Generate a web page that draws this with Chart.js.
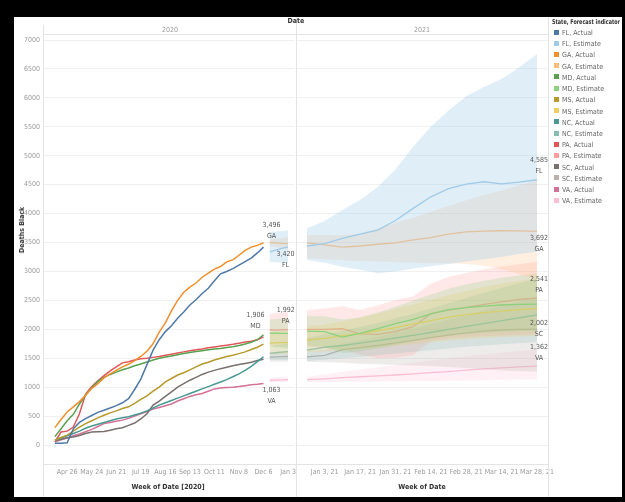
<!DOCTYPE html>
<html>
<head>
<meta charset="utf-8">
<script src="https://cdn.jsdelivr.net/npm/chart.js@4.4.1/dist/chart.umd.min.js"></script>
<style>
  html, body { margin: 0; padding: 0; background: #000; }
  body { width: 625px; height: 502px; position: relative; overflow: hidden;
         font-family: 'Liberation Sans Narrow', 'DejaVu Sans Condensed', 'Roboto Condensed', sans-serif; }
  #sheet { position: absolute; left: 14px; top: 17px; width: 608px; height: 480px; background: #fff; }
  canvas { position: absolute; }
  #chart2020 { left: 14px; top: 17px; }
  #chart2021 { left: 296px; top: 17px; }
  .rule { position: absolute; background: #e4e4e4; }
  .txt { position: absolute; white-space: nowrap; transform: translate(-50%, -50%); font-size: 7px; color: #999; }
  .bold { font-weight: bold; color: #333; }
  #legend { position: absolute; left: 552px; top: 17px; font-size: 7px; color: #666; white-space: nowrap; }
  #legend .title { font-weight: bold; color: #333; height: 11px; line-height: 11px; font-size: 6.6px;
                   transform: scaleX(0.82); transform-origin: left center; }
  #legend .item { height: 11.23px; line-height: 11.23px; }
  #legend .sw { display: inline-block; width: 5px; height: 5px; margin: 0 3px 0 2px; vertical-align: middle; position: relative; top: -1px; }
</style>
</head>
<body>
<div id="sheet"></div>
<canvas id="chart2020" width="286" height="480"></canvas>
<canvas id="chart2021" width="272" height="480"></canvas>

<div class="rule" style="left:43px; top:25px; width:1px; height:472px;"></div>
<div class="rule" style="left:296px; top:17px; width:1px; height:480px;"></div>
<div class="rule" style="left:548px; top:17px; width:1px; height:480px;"></div>
<div class="rule" style="left:43px; top:34px; width:505px; height:1px;"></div>
<div class="rule" style="left:43px; top:464px; width:505px; height:1px;"></div>

<div class="txt bold" style="left:296px; top:21px;">Date</div>
<div class="txt" style="left:170px; top:30px;">2020</div>
<div class="txt" style="left:422px; top:30px;">2021</div>
<div class="txt bold" style="left:168px; top:487px;">Week of Date [2020]</div>
<div class="txt bold" style="left:422px; top:487px;">Week of Date</div>
<div class="txt bold" style="left:22px; top:230px; transform: translate(-50%, -50%) rotate(-90deg);">Deaths Black</div>
<div id="legend"><div class="title">State, Forecast indicator</div></div>

<script>
// ==========================================
// 1. DATA
// ==========================================
const states = ['FL', 'GA', 'MD', 'MS', 'NC', 'PA', 'SC', 'VA'];
const actualColors = ['#4e79a7', '#f28e2b', '#59a14f', '#b6992d', '#499894', '#e15759', '#79706e', '#d37295'];
const estimateColors = ['#a0cbe8', '#ffbe7d', '#8cd17d', '#f1ce63', '#86bcb6', '#ff9d9a', '#bab0ac', '#fabfd2'];

const yTicks = [0, 500, 1000, 1500, 2000, 2500, 3000, 3500, 4000, 4500, 5000, 5500, 6000, 6500, 7000];
const ticks2020 = ['Apr 26', 'May 24', 'Jun 21', 'Jul 19', 'Aug 16', 'Sep 13', 'Oct 11', 'Nov 8', 'Dec 6', 'Jan 3'];
const ticks2021 = ['Jan 3, 21', 'Jan 17, 21', 'Jan 31, 21', 'Feb 14, 21', 'Feb 28, 21', 'Mar 14, 21', 'Mar 28, 21'];

// weekly actuals, week of Apr 12 2020 -> week of Dec 6 2020
const flActual = [30, 30, 40, 280, 390, 455, 510, 565, 600, 640, 680, 730, 800, 960, 1140, 1390, 1640, 1820, 1960, 2060, 2190, 2300, 2420, 2510, 2620, 2710, 2840, 2960, 3000, 3050, 3110, 3170, 3230, 3320, 3420];
const gaActual = [300, 440, 570, 660, 750, 860, 980, 1060, 1160, 1230, 1290, 1350, 1395, 1460, 1530, 1620, 1750, 1950, 2110, 2320, 2500, 2640, 2730, 2800, 2900, 2970, 3040, 3085, 3165, 3200, 3280, 3365, 3420, 3450, 3496];
const mdActual = [145, 280, 420, 530, 710, 860, 990, 1100, 1170, 1220, 1260, 1300, 1330, 1370, 1400, 1435, 1470, 1500, 1520, 1540, 1560, 1580, 1600, 1615, 1630, 1645, 1660, 1670, 1685, 1700, 1720, 1745, 1775, 1820, 1906];
const msActual = [85, 130, 170, 240, 310, 370, 420, 470, 515, 555, 590, 630, 660, 720, 790, 850, 930, 1000, 1090, 1150, 1210, 1250, 1300, 1350, 1400, 1430, 1470, 1500, 1530, 1550, 1580, 1610, 1650, 1690, 1745];
const ncActual = [85, 120, 160, 200, 240, 290, 330, 360, 390, 420, 450, 470, 490, 520, 550, 590, 640, 690, 730, 770, 810, 850, 890, 930, 970, 1010, 1050, 1090, 1130, 1180, 1230, 1290, 1360, 1440, 1526];
const paActual = [55, 225, 240, 310, 540, 880, 1010, 1110, 1200, 1280, 1350, 1420, 1440, 1470, 1490, 1500, 1515, 1530, 1550, 1570, 1590, 1610, 1630, 1645, 1660, 1680, 1695, 1710, 1725, 1740, 1760, 1780, 1795, 1820, 1870];
const scActual = [75, 100, 125, 140, 165, 200, 225, 230, 235, 255, 280, 300, 340, 380, 450, 540, 690, 760, 840, 920, 1000, 1060, 1120, 1170, 1220, 1260, 1290, 1320, 1345, 1370, 1390, 1410, 1430, 1460, 1481];
const vaActual = [55, 90, 120, 160, 190, 230, 270, 320, 370, 390, 410, 430, 460, 500, 540, 580, 620, 650, 680, 710, 760, 800, 840, 870, 890, 930, 970, 985, 995, 1000, 1010, 1025, 1040, 1050, 1063];

// 2020 forecast, week of Dec 13 -> week of Jan 3 (estimate, upper, lower)
const fl20Est = [3340, 3370, 3400, 3425], fl20Hi = [3680, 3690, 3700, 3710], fl20Lo = [3170, 3160, 3150, 3140];
const ga20Est = [3500, 3495, 3485, 3480], ga20Hi = [3560, 3570, 3580, 3590], ga20Lo = [3440, 3420, 3400, 3380];
const md20Est = [1935, 1932, 1930, 1928], md20Hi = [2170, 2180, 2190, 2200], md20Lo = [1700, 1690, 1680, 1670];
const ms20Est = [1760, 1765, 1770, 1775], ms20Hi = [1950, 1960, 1970, 1980], ms20Lo = [1570, 1570, 1570, 1570];
const nc20Est = [1585, 1595, 1605, 1615], nc20Hi = [1700, 1720, 1740, 1760], nc20Lo = [1470, 1470, 1470, 1470];
const pa20Est = [1992, 1985, 1990, 1995], pa20Hi = [2260, 2280, 2290, 2300], pa20Lo = [1720, 1700, 1700, 1700];
const sc20Est = [1520, 1525, 1528, 1530], sc20Hi = [1600, 1610, 1620, 1630], sc20Lo = [1440, 1440, 1440, 1440];
const va20Est = [1115, 1120, 1125, 1130], va20Hi = [1160, 1170, 1175, 1180], va20Lo = [1090, 1090, 1090, 1090];

// 2021 forecast, week of Dec 27 -> week of Mar 28
const fl21Est = [3440, 3480, 3570, 3645, 3715, 3880, 4090, 4290, 4430, 4510, 4550, 4515, 4545, 4585];
const fl21Hi = [3745, 3870, 4060, 4235, 4460, 4760, 5155, 5500, 5780, 6030, 6190, 6325, 6530, 6760];
const fl21Lo = [3200, 3150, 3080, 3030, 2970, 3000, 3050, 3090, 3130, 3170, 3210, 3250, 3300, 3340];
const ga21Est = [3495, 3460, 3420, 3440, 3470, 3495, 3545, 3585, 3645, 3685, 3698, 3703, 3700, 3692];
const ga21Hi = [3630, 3630, 3630, 3650, 3745, 3840, 3930, 4030, 4130, 4230, 4320, 4400, 4490, 4580];
const ga21Lo = [3230, 3210, 3195, 3180, 3170, 3160, 3150, 3145, 3140, 3130, 3100, 3040, 2950, 2860];
const md21Est = [1970, 1960, 1865, 1930, 2010, 2100, 2172, 2265, 2340, 2375, 2400, 2420, 2430, 2436];
const md21Hi = [2230, 2225, 2170, 2210, 2290, 2390, 2500, 2600, 2700, 2780, 2840, 2890, 2930, 2970];
const md21Lo = [1720, 1700, 1590, 1620, 1670, 1730, 1790, 1850, 1890, 1920, 1940, 1955, 1965, 1970];
const ms21Est = [1815, 1845, 1890, 1925, 1975, 2030, 2090, 2150, 2210, 2255, 2290, 2315, 2340, 2360];
const ms21Hi = [2050, 2085, 2140, 2200, 2270, 2350, 2430, 2510, 2590, 2660, 2730, 2790, 2840, 2880];
const ms21Lo = [1600, 1615, 1635, 1655, 1680, 1710, 1745, 1775, 1805, 1830, 1850, 1865, 1875, 1880];
const nc21Est = [1640, 1690, 1720, 1760, 1805, 1850, 1895, 1945, 2000, 2050, 2100, 2150, 2200, 2250];
const nc21Hi = [1850, 1915, 1975, 2040, 2110, 2190, 2270, 2360, 2450, 2540, 2630, 2720, 2800, 2880];
const nc21Lo = [1450, 1475, 1495, 1520, 1550, 1580, 1610, 1640, 1670, 1700, 1720, 1740, 1760, 1780];
const pa21Est = [2000, 2000, 2010, 1920, 1913, 1958, 2045, 2270, 2330, 2380, 2430, 2475, 2515, 2541];
const pa21Hi = [2335, 2360, 2400, 2335, 2415, 2505, 2565, 2790, 2905, 2975, 3040, 3085, 3125, 3170];
const pa21Lo = [1700, 1680, 1640, 1560, 1500, 1510, 1550, 1800, 1840, 1860, 1880, 1890, 1905, 1920];
const sc21Est = [1525, 1550, 1650, 1685, 1720, 1765, 1810, 1855, 1900, 1940, 1970, 1990, 2000, 2002];
const sc21Hi = [1620, 1650, 1760, 1815, 1870, 1935, 2010, 2090, 2170, 2250, 2330, 2410, 2480, 2550];
const sc21Lo = [1440, 1430, 1420, 1405, 1395, 1385, 1375, 1365, 1350, 1330, 1310, 1290, 1275, 1265];
const va21Est = [1130, 1145, 1165, 1180, 1195, 1210, 1230, 1250, 1270, 1295, 1315, 1335, 1350, 1362];
const va21Hi = [1180, 1220, 1265, 1305, 1345, 1380, 1420, 1460, 1500, 1540, 1570, 1600, 1625, 1650];
const va21Lo = [1090, 1090, 1092, 1095, 1098, 1100, 1104, 1108, 1110, 1114, 1118, 1122, 1126, 1130];

const actuals = [flActual, gaActual, mdActual, msActual, ncActual, paActual, scActual, vaActual];
const forecast2020 = [
  [fl20Est, fl20Hi, fl20Lo], [ga20Est, ga20Hi, ga20Lo], [md20Est, md20Hi, md20Lo], [ms20Est, ms20Hi, ms20Lo],
  [nc20Est, nc20Hi, nc20Lo], [pa20Est, pa20Hi, pa20Lo], [sc20Est, sc20Hi, sc20Lo], [va20Est, va20Hi, va20Lo]
];
const forecast2021 = [
  [fl21Est, fl21Hi, fl21Lo], [ga21Est, ga21Hi, ga21Lo], [md21Est, md21Hi, md21Lo], [ms21Est, ms21Hi, ms21Lo],
  [nc21Est, nc21Hi, nc21Lo], [pa21Est, pa21Hi, pa21Lo], [sc21Est, sc21Hi, sc21Lo], [va21Est, va21Hi, va21Lo]
];

// ==========================================
// 2. HELPERS
// ==========================================
const FONT = "'Liberation Sans Narrow', 'DejaVu Sans Condensed', 'Roboto Condensed', sans-serif";
Chart.defaults.font.family = FONT;
Chart.defaults.font.size = 7;

function rgba(hex, a) {
  const n = parseInt(hex.slice(1), 16);
  return `rgba(${n >> 16}, ${(n >> 8) & 255}, ${n & 255}, ${a})`;
}

function toPoints(values, firstWeek) {
  return values.map((v, i) => ({ x: firstWeek + i, y: v }));
}

function lineSet(label, values, firstWeek, color, width) {
  return { label, data: toPoints(values, firstWeek), borderColor: color, borderWidth: width,
           pointRadius: 0, tension: 0, fill: false };
}

function bandSets(label, hi, lo, firstWeek, color, alpha) {
  return [
    { label: label + ' hi', data: toPoints(hi, firstWeek), borderWidth: 0, borderColor: 'transparent',
      pointRadius: 0, fill: '+1', backgroundColor: rgba(color, alpha) },
    { label: label + ' lo', data: toPoints(lo, firstWeek), borderWidth: 0, borderColor: 'transparent',
      pointRadius: 0, fill: false }
  ];
}

function forecastSets(forecast, firstWeek) {
  const sets = [];
  forecast.forEach(([est, hi, lo], i) => {
    sets.push(lineSet(states[i] + ', Estimate', est, firstWeek, estimateColors[i], 1.3));
    sets.push(...bandSets(states[i] + ', Estimate', hi, lo, firstWeek, estimateColors[i], i === 0 ? 0.32 : 0.24));
  });
  return sets;
}

// value + state label next to a line's point
const endLabels = {
  id: 'endLabels',
  afterDatasetsDraw(chart, args, opts) {
    const ctx = chart.ctx;
    ctx.save();
    ctx.font = '7px ' + FONT;
    ctx.fillStyle = '#555';
    ctx.textAlign = 'center';
    ctx.textBaseline = 'middle';
    opts.items.forEach(it => {
      const idx = chart.data.datasets.findIndex(d => d.label === it.series);
      const ds = chart.data.datasets[idx];
      const p = it.index < 0 ? ds.data.length - 1 : it.index;
      const el = chart.getDatasetMeta(idx).data[p];
      ctx.fillText(ds.data[p].y.toLocaleString('en-US'), el.x + it.dx, el.y + it.dy);
      ctx.fillText(it.series.slice(0, 2), el.x + it.dx, el.y + it.dy + 11);
    });
    ctx.restore();
  }
};

function yScale(showLabels) {
  return {
    min: -328, max: 7104,
    afterBuildTicks: s => { s.ticks = yTicks.map(v => ({ value: v })); },
    afterFit: s => { s.width = showLabels ? 29 : 0; },
    grid: { color: '#f0f0f0', drawTicks: false },
    border: { display: false },
    ticks: { display: showLabels, color: '#9a9a9a', padding: 3, callback: v => String(v) }
  };
}

function xScale(min, max, labels, first, step) {
  return {
    type: 'linear', min, max,
    afterBuildTicks: s => { s.ticks = labels.map((t, i) => ({ value: first + step * i })); },
    afterFit: s => { s.height = 33; },
    grid: { display: false, drawTicks: false }, border: { display: false },
    ticks: { color: '#9a9a9a', padding: 4, autoSkip: false, maxRotation: 0,
             callback: (v, i) => labels[i] }
  };
}

// ==========================================
// 3. 2020 PANEL
// ==========================================
const sets2020 = actuals.map((vals, i) => lineSet(states[i] + ', Actual', vals, 0, actualColors[i], 1.5))
  .concat(forecastSets(forecast2020, 35));

new Chart(document.getElementById('chart2020'), {
  type: 'line',
  data: { datasets: sets2020 },
  plugins: [endLabels],
  options: {
    responsive: false, animation: false, devicePixelRatio: 1,
    layout: { padding: { top: 17, right: 4, left: 0, bottom: 0 } },
    plugins: {
      legend: { display: false }, tooltip: { enabled: false },
      endLabels: { items: [
        { series: 'GA, Actual', index: -1, dx: 8, dy: -18 },
        { series: 'FL, Actual', index: -1, dx: 22, dy: 7 },
        { series: 'MD, Actual', index: -1, dx: -8, dy: -20 },
        { series: 'PA, Estimate', index: 0, dx: 16, dy: -20 },
        { series: 'VA, Actual', index: -1, dx: 8, dy: 7 }
      ] }
    },
    scales: {
      x: xScale(-1.94, 39.02, ticks2020, 2, 4),
      y: yScale(true)
    }
  }
});

// ==========================================
// 4. 2021 PANEL
// ==========================================
new Chart(document.getElementById('chart2021'), {
  type: 'line',
  data: { datasets: forecastSets(forecast2021, 0) },
  plugins: [endLabels],
  options: {
    responsive: false, animation: false, devicePixelRatio: 1,
    layout: { padding: { top: 17, right: 20, left: 0, bottom: 0 } },
    plugins: {
      legend: { display: false }, tooltip: { enabled: false },
      endLabels: { items: [
        { series: 'FL, Estimate', index: -1, dx: 2, dy: -20 },
        { series: 'GA, Estimate', index: -1, dx: 2, dy: 7 },
        { series: 'PA, Estimate', index: -1, dx: 2, dy: -19 },
        { series: 'SC, Estimate', index: -1, dx: 2, dy: -6 },
        { series: 'VA, Estimate', index: -1, dx: 2, dy: -19 }
      ] }
    },
    scales: {
      x: xScale(-0.62, 13.62, ticks2021, 1, 2),
      y: yScale(false)
    }
  }
});

// ==========================================
// 5. LEGEND
// ==========================================
const legend = document.getElementById('legend');
states.forEach((s, i) => {
  [['Actual', actualColors[i]], ['Estimate', estimateColors[i]]].forEach(([kind, color]) => {
    const row = document.createElement('div');
    row.className = 'item';
    row.innerHTML = `<span class="sw" style="background:${color}"></span>${s}, ${kind}`;
    legend.appendChild(row);
  });
});
</script>
</body>
</html>
